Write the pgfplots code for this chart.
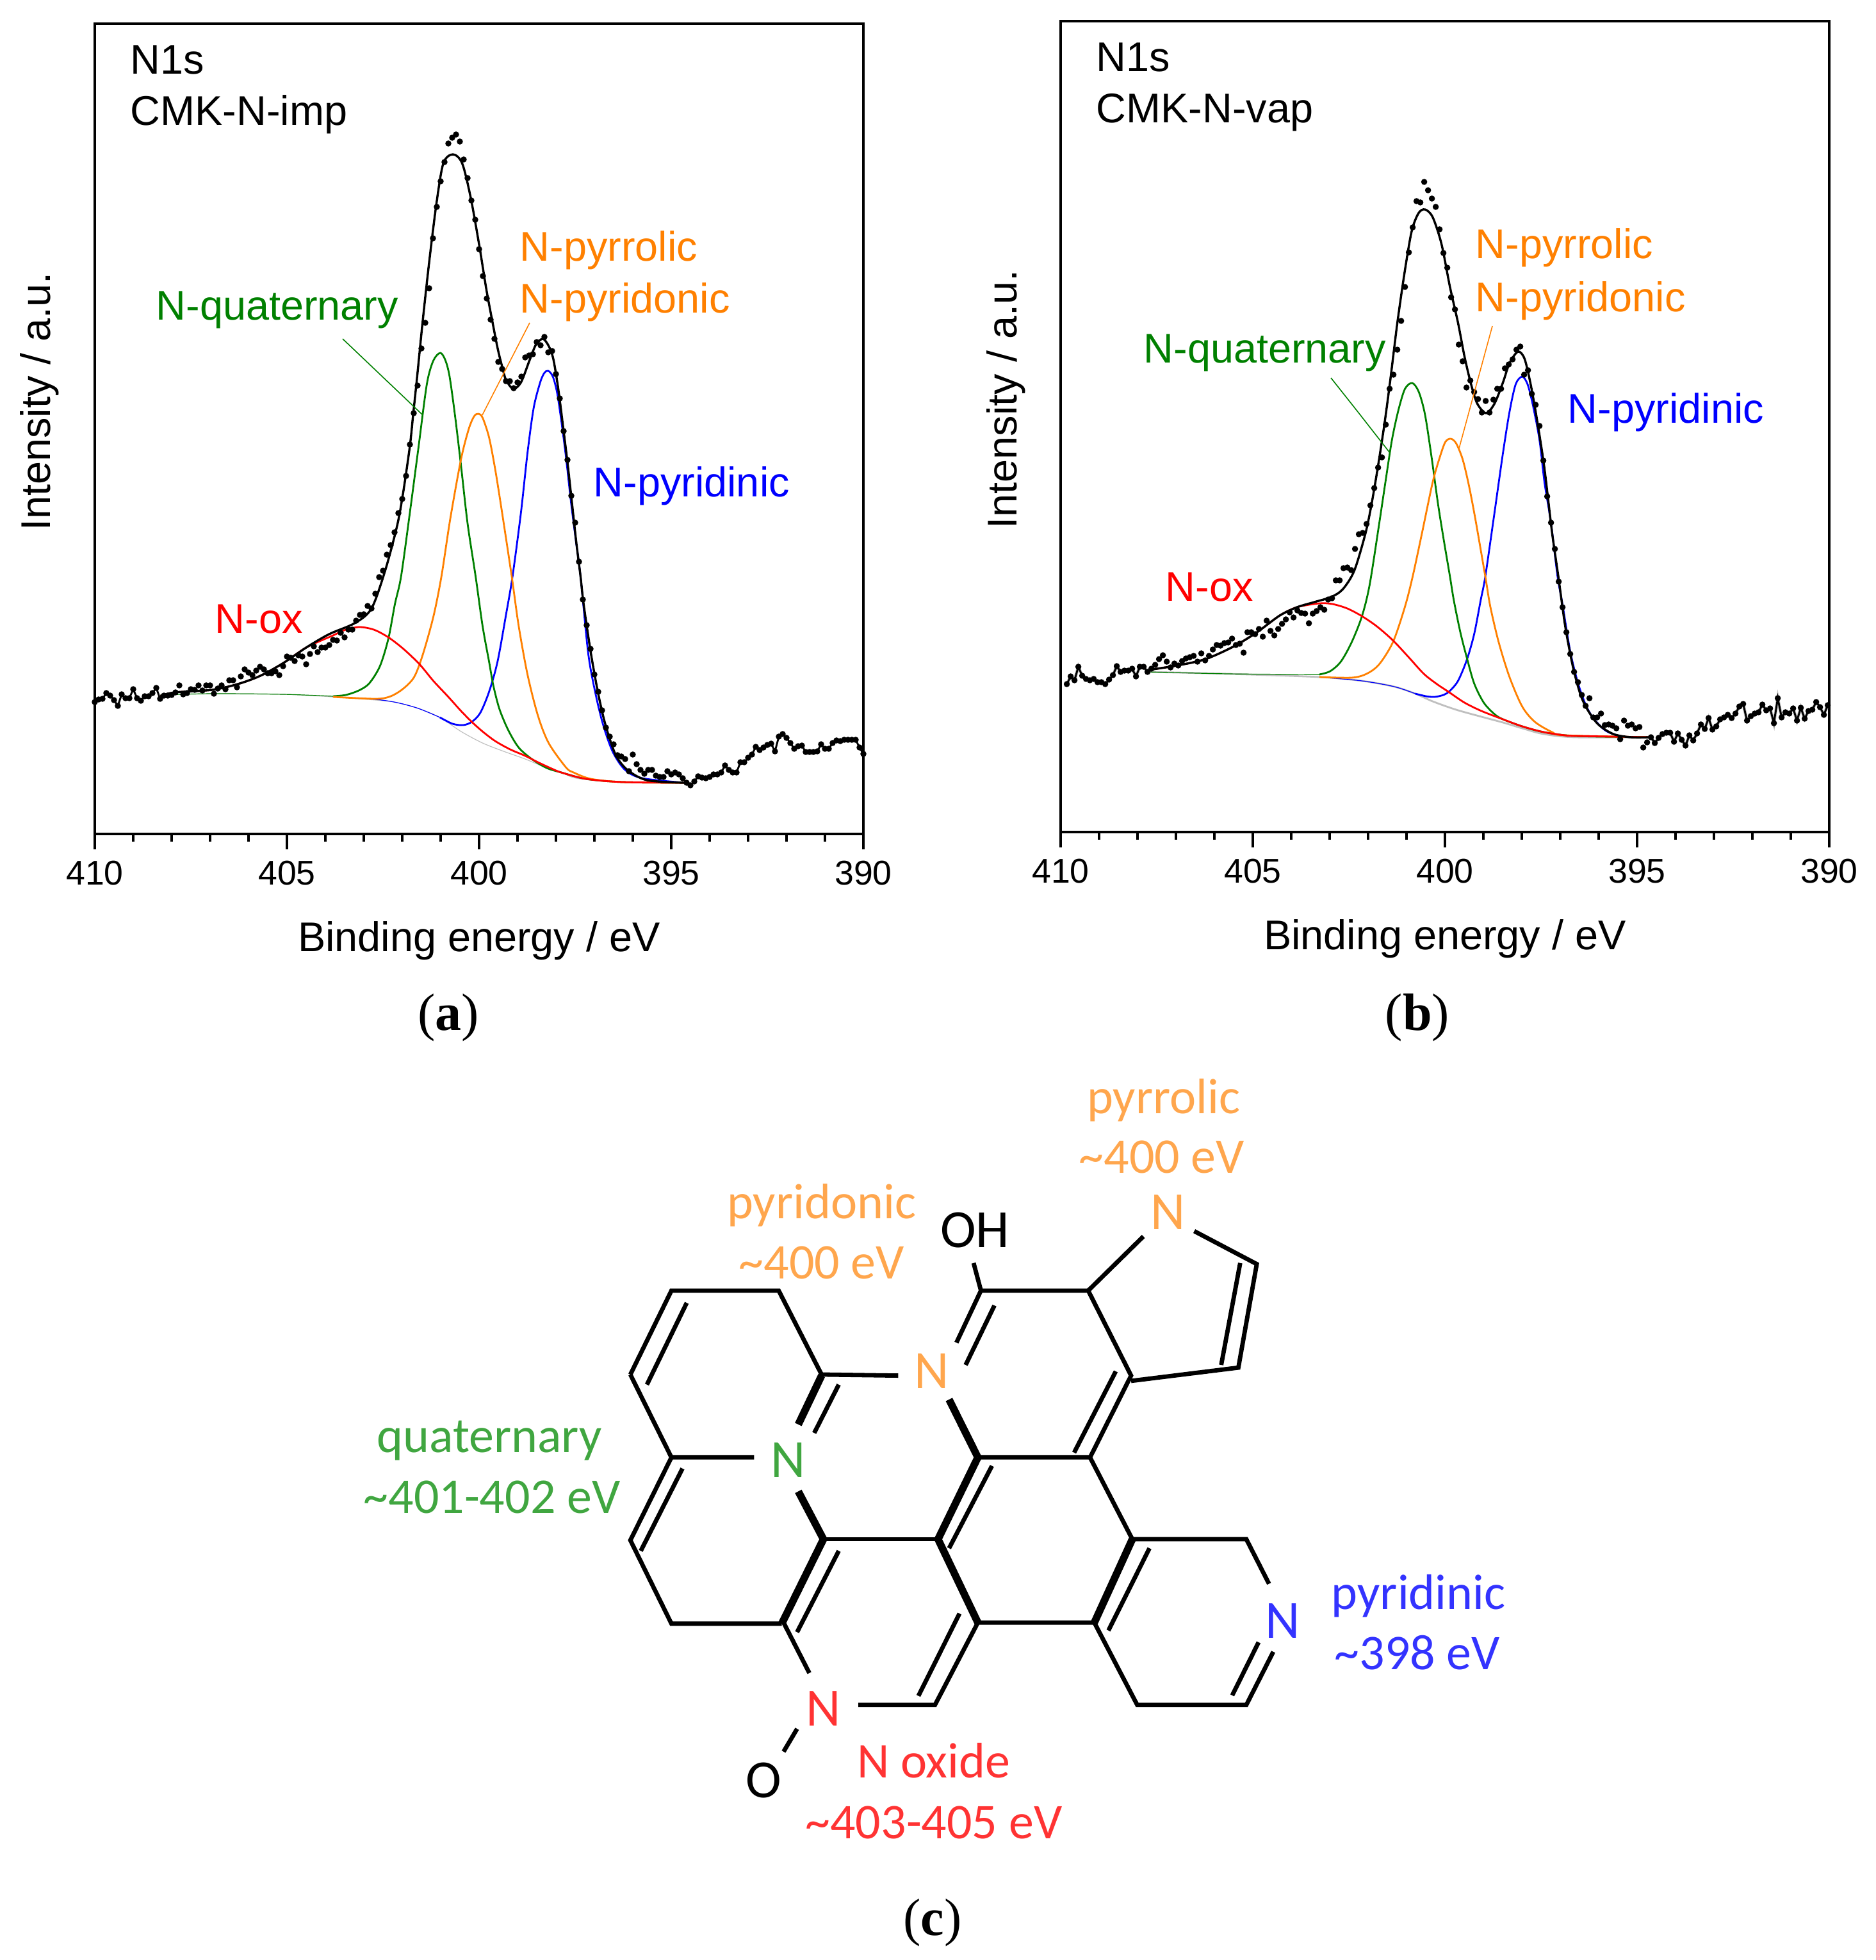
\documentclass[border=0pt]{standalone}
\usepackage{fontspec}
\setmainfont{Liberation Sans}
\newfontfamily\carlito{Carlito}
\newfontfamily\tnr{Liberation Serif}
\usepackage{pgfplots}
\usepackage{pgfplotstable}
\pgfplotsset{compat=1.18}
\definecolor{cgreen}{RGB}{0,128,0}
\definecolor{corange}{RGB}{255,128,0}
\definecolor{cgray}{RGB}{191,191,191}
\definecolor{morange}{RGB}{255,166,77}
\definecolor{mgreen}{RGB}{64,166,64}
\definecolor{mblue}{RGB}{51,51,255}
\definecolor{mred}{RGB}{255,51,51}
\newcommand\lab{\fontsize{16.2}{19}\selectfont}
\newcommand\mlab{\fontsize{19.5}{23}\selectfont\carlito}
\newcommand\matom{\fontsize{21}{25}\selectfont\carlito}
\pgfplotsset{xps/.style={
  scale only axis, width=300pt, x dir=reverse, xmin=390, xmax=410,
  xtick={390,395,400,405,410}, minor x tick num=4, ytick=\empty,
  xtick pos=bottom, tick align=outside,
  major tick length=6pt, minor tick length=3pt,
  axis line style={line width=0.95pt},
  tick style={line width=0.85pt,black},
  xticklabel style={font=\fontsize{13.4}{15}\selectfont,yshift=-1pt,/pgf/number format/assume math mode=true,/pgf/number format/.cd,1000 sep={}},
  xlabel={Binding energy / eV}, ylabel={Intensity / a.u.},
  xlabel style={font=\lab,at={(axis description cs:0.5,-0.1447)},anchor=base},
  ylabel style={font=\lab,at={(axis description cs:-0.0575,0.5336)},anchor=base,rotate=0},
}}
\pgfplotsset{fit/.style={line width=0.85pt,smooth,tension=0.5,no marks},
 comp/.style={line width=0.7pt,smooth,tension=0.5,no marks},
 thin/.style={line width=0.3pt,smooth,tension=0.5,no marks},
 dots/.style={only marks,mark=*,mark size=0.98pt,mark options={fill=black,draw=none}}}
\pgfplotstableread{
410.0 202
409.9 206
409.8 207
409.7 216
409.6 212
409.5 205
409.4 196
409.3 214
409.2 208
409.1 208
409.0 222
408.9 208
408.8 204
408.7 211
408.6 211
408.5 216
408.4 224
408.3 207
408.2 212
408.1 212
408.0 213
407.9 217
407.8 228
407.7 214
407.6 216
407.5 222
407.4 221
407.3 228
407.2 220
407.1 228
407.0 228
406.9 215
406.8 223
406.7 228
406.6 222
406.5 236
406.4 236
406.3 225
406.2 242
406.1 253
406.0 248
405.9 244
405.8 251
405.7 257
405.6 253
405.5 247
405.4 247
405.3 250
405.2 244
405.1 258
405.0 273
404.9 271
404.8 266
404.7 275
404.6 273
404.5 261
404.4 277
404.3 289
404.2 280
404.1 287
404.0 287
403.9 291
403.8 299
403.7 298
403.6 310
403.5 303
403.4 315
403.3 315
403.2 329
403.1 338
403.0 339
402.9 352
402.8 348
402.7 371
402.6 397
402.5 407
402.4 432
402.3 447
402.2 467
402.1 497
402.0 519
401.9 555
401.8 604
401.7 653
401.6 696
401.5 754
401.4 794
401.3 848
401.2 926
401.1 975
401.0 1015
400.9 1045
400.8 1074
400.7 1083
400.6 1088
400.5 1077
400.4 1049
400.3 1020
400.2 985
400.1 955
400.0 909
399.9 867
399.8 832
399.7 799
399.6 769
399.5 733
399.4 722
399.3 703
399.2 703
399.1 692
399.0 701
398.9 710
398.8 740
398.7 743
398.6 745
398.5 764
398.4 759
398.3 772
398.2 748
398.1 750
398.0 714
397.9 676
397.8 625
397.7 580
397.6 524
397.5 482
397.4 421
397.3 362
397.2 322
397.1 285
397.0 245
396.9 218
396.8 189
396.7 162
396.6 148
396.5 136
396.4 119
396.3 117
396.2 113
396.1 94
396.0 120
395.9 105
395.8 96
395.7 90
395.6 96
395.5 96
395.4 87
395.3 85
395.2 85
395.1 94
395.0 89
394.9 92
394.8 89
394.7 83
394.6 76
394.5 72
394.4 78
394.3 86
394.2 84
394.1 83
394.0 85
393.9 89
393.8 89
393.7 92
393.6 103
393.5 96
393.4 92
393.3 92
393.2 108
393.1 108
393.0 115
392.9 120
392.8 132
392.7 127
392.6 131
392.5 135
392.4 137
392.3 125
392.2 148
392.1 152
392.0 146
391.9 138
391.8 129
391.7 133
391.6 134
391.5 124
391.4 124
391.3 124
391.2 125
391.1 136
391.0 129
390.9 129
390.8 138
390.7 142
390.6 141
390.5 143
390.4 143
390.3 143
390.2 143
390.1 131
390.0 121
}\dotsA
\pgfplotstableread{
409.84 228
409.74 240
409.64 234
409.54 255
409.44 241
409.34 236
409.24 234
409.14 236
409.04 231
408.94 231
408.84 228
408.74 235
408.64 242
408.54 256
408.44 247
408.34 249
408.24 249
408.14 252
408.04 240
407.94 255
407.84 255
407.74 247
407.64 252
407.54 258
407.44 267
407.34 273
407.24 263
407.14 254
407.04 260
406.94 257
406.84 264
406.74 268
406.64 270
406.54 272
406.44 263
406.34 276
406.24 265
406.14 272
406.04 282
405.94 289
405.84 288
405.74 292
405.64 293
405.54 299
405.44 289
405.34 291
405.24 277
405.14 309
405.04 309
404.94 306
404.84 314
404.74 302
404.64 327
404.54 311
404.44 304
404.34 314
404.24 322
404.14 329
404.04 340
403.94 332
403.84 343
403.74 339
403.64 338
403.54 323
403.44 338
403.34 342
403.24 348
403.14 344
403.04 360
402.94 362
402.84 390
402.74 390
402.64 409
402.54 410
402.44 406
402.34 439
402.24 462
402.14 464
402.04 478
401.94 507
401.84 534
401.74 566
401.64 582
401.54 633
401.44 689
401.34 711
401.24 750
401.14 795
401.04 848
400.94 902
400.84 941
400.74 982
400.64 980
400.54 1012
400.44 999
400.34 986
400.24 973
400.14 938
400.04 901
399.94 878
399.84 832
399.74 813
399.64 758
399.54 732
399.44 691
399.34 702
399.24 684
399.14 673
399.04 652
398.94 670
398.84 652
398.74 672
398.64 689
398.54 689
398.44 721
398.34 727
398.24 735
398.14 750
398.04 755
397.94 711
397.84 718
397.74 681
397.64 664
397.54 631
397.44 577
397.34 521
397.24 480
397.14 439
397.04 388
396.94 348
396.84 309
396.74 275
396.64 247
396.54 231
396.44 211
396.34 194
396.24 206
396.14 176
396.04 176
395.94 182
395.84 164
395.74 165
395.64 163
395.54 159
395.44 142
395.34 171
395.24 163
395.14 165
395.04 159
394.94 161
394.84 129
394.74 137
394.64 145
394.54 136
394.44 144
394.34 150
394.24 152
394.14 152
394.04 138
393.94 151
393.84 141
393.74 132
393.64 148
393.54 140
393.44 151
393.34 165
393.24 158
393.14 175
393.04 157
392.94 162
392.84 173
392.74 176
392.64 180
392.54 175
392.44 182
392.34 193
392.24 197
392.14 171
392.04 178
391.94 182
391.84 184
391.74 196
391.64 187
391.54 190
391.44 167
391.34 206
391.24 176
391.14 184
391.04 182
390.94 190
390.84 171
390.74 191
390.64 174
390.54 186
390.44 188
390.34 200
390.24 192
390.14 180
390.04 195
}\dotsB
\begin{document}
\begin{tikzpicture}
\useasboundingbox (0,0) rectangle (732pt,-765pt);
%---------------- panel a
\begin{axis}[xps,height=316.25pt,at={(37pt,-325.5pt)},anchor=south west,ymin=-4,ymax=1261]
\addplot[cgray,thin] coordinates {(408.29,213)(406.95,215)(405.09,214)(403.8,210)(402.49,204)(402.13,201)(401.58,192)(401.02,178)(400.47,156)(399.91,138)(399.36,125)(398.8,113)(398.24,99)(397.86,92)(397.47,83)(396.58,78)(394.67,76)};
\addplot[cgreen,thin] coordinates {(408.29,213)(406.95,215)(405.09,214)(403.8,211)};
\addplot[blue,thin] coordinates {(403.8,210)(402.69,206)(402.13,201)(401.58,192)(401.02,178)};
\addplot[blue,comp] coordinates {(401.02,178)(400.69,168)(400.41,166)(400.19,171)(399.97,185)(399.74,218)(399.52,265)(399.3,338)(399.13,398)(398.91,498)(398.74,591)(398.58,661)(398.41,701)(398.3,716)(398.2,719)(398.08,710)(397.97,685)(397.86,641)(397.74,585)(397.61,515)(397.49,458)(397.36,398)(397.16,278)(396.97,215)(396.77,166)(396.52,124)(396.2,96)(395.75,83)(394.67,76)};
\addplot[cgreen,comp] coordinates {(403.8,211)(403.47,213)(403.13,220)(402.86,231)(402.58,258)(402.36,301)(402.19,355)(402.03,398)(401.8,498)(401.58,598)(401.36,698)(401.19,735)(401.01,747)(400.88,736)(400.77,711)(400.63,651)(400.47,571)(400.3,481)(400.09,398)(399.91,321)(399.74,265)(399.63,228)(399.47,191)(399.24,158)(398.97,131)(398.63,113)(398.24,99)(397.86,92)(397.22,82)(396.26,77)(394.67,76)};
\addplot[corange,comp] coordinates {(403.8,210)(402.69,207)(402.3,211)(401.97,223)(401.69,241)(401.47,275)(401.19,335)(400.98,398)(400.75,488)(400.47,581)(400.27,628)(400.13,648)(400.02,652)(399.91,646)(399.74,615)(399.58,565)(399.41,501)(399.15,398)(398.97,321)(398.74,245)(398.47,181)(398.19,138)(397.74,100)(397.54,92)(397.09,82)(396.26,77)(394.67,76)};
\addplot[red,comp] coordinates {(408.29,211.5)(407.92,217)(406.95,221)(406.28,230)(405.69,243)(405.09,263)(404.5,287)(403.8,306)(403.47,315)(403.11,319)(402.74,315)(402.36,303)(401.97,285)(401.55,261)(401.19,235)(400.8,210)(400.47,188)(400.19,171)(399.91,156)(399.58,141)(399.19,128)(398.8,118)(398.47,108)(398.11,98)(397.86,92)(397.22,82)(396.26,77)(394.67,76)};
\addplot[black,fit] coordinates {(408.29,211.5)(407.92,217)(406.95,221)(406.28,230)(405.69,243)(405.09,263)(404.5,287)(403.9,308)(403.24,325)(402.8,348)(402.44,408)(402.13,478)(401.97,531)(401.8,602)(401.72,648)(401.61,711)(401.47,795)(401.3,888)(401.11,980)(400.93,1043)(400.68,1057)(400.44,1043)(400.22,990)(400.0,916.5)(399.81,846)(399.66,798)(399.52,755)(399.41,728)(399.3,705)(399.11,691)(398.91,701)(398.69,735)(398.52,760)(398.34,769)(398.19,758)(398.07,738)(397.94,691)(397.8,625)(397.69,571)(397.58,511)(397.47,451)(397.36,398)(397.28,355)(397.09,278)(396.9,215)(396.71,166)(396.45,120)(396.14,96)(395.63,80)(394.67,76)};
\addplot[black,line width=0.72pt,no marks,restrict x to domain=408.2:410] table {\dotsA};
\addplot[black,line width=0.72pt,no marks,restrict x to domain=390:394.7] table {\dotsA};
\addplot[dots] table {\dotsA};
\end{axis}
%---------------- panel b
\begin{axis}[xps,height=316.5pt,at={(414pt,-324.75pt)},anchor=south west,ymin=-3,ymax=1263]
\addplot[cgray,line width=1.2pt,no marks,restrict x to domain=407.7:410] table {\dotsB};
\addplot[cgray,line width=1.2pt,no marks,restrict x to domain=390:394.7] table {\dotsB};
\addplot[cgray,comp] coordinates {(407.72,247)(405.64,244)(403.27,239)(402.16,233)(401.32,224)(400.77,213)(400.32,201)(399.71,188)(399.05,177)(398.49,168)(397.99,159)(397.43,150)(396.6,145)(394.63,145)};
\addplot[cgreen,thin] coordinates {(407.72,247)(405.64,244)(403.27,243)};
\addplot[blue,thin] coordinates {(403.27,239)(402.16,233)(401.32,224)(400.77,213)};
\addplot[blue,comp] coordinates {(400.77,213)(400.49,209)(400.27,208)(400.04,211)(399.88,217)(399.66,233)(399.43,266)(399.24,306)(399.07,359)(398.95,396)(398.71,496)(398.49,589)(398.32,653)(398.16,696)(397.99,708)(397.85,696)(397.71,663)(397.54,609)(397.41,543)(397.24,479)(397.07,396)(396.94,352)(396.74,279)(396.54,230)(396.34,196)(396.14,175)(395.81,155)(395.35,146)(394.63,145)};
\addplot[cgreen,comp] coordinates {(403.27,243)(402.99,248)(402.71,263)(402.43,293)(402.16,334)(401.96,383)(401.71,479)(401.55,543)(401.38,609)(401.21,656)(401.04,689)(400.85,698)(400.68,684)(400.52,649)(400.35,583)(400.18,509)(400.02,449)(399.87,396)(399.77,359)(399.6,309)(399.43,269)(399.24,229)(398.99,199)(398.71,181)(398.49,173)(397.99,162)(397.43,153)(396.6,147)(394.63,145)};
\addplot[corange,comp] coordinates {(403.27,239)(402.43,238)(402.04,244)(401.71,259)(401.35,294)(401.04,349)(400.84,396)(400.6,463)(400.32,543)(400.13,583)(399.99,606)(399.85,611)(399.71,604)(399.54,579)(399.38,539)(399.21,486)(398.95,396)(398.82,349)(398.6,293)(398.32,239)(397.99,193)(397.66,169)(397.21,153)(396.88,148)(394.63,145)};
\addplot[red,comp] coordinates {(407.72,250)(406.97,257)(406.23,267)(405.49,287)(404.89,309)(404.3,335)(403.85,348)(403.27,354)(402.93,353)(402.54,346)(402.16,334)(401.77,318)(401.35,296)(400.93,269)(400.55,244)(400.21,228)(399.91,216)(399.49,199)(399.05,186)(398.49,173)(397.99,162)(397.43,153)(396.88,148)(396.6,147)(394.63,145)};
\addplot[black,fit] coordinates {(407.72,250)(406.97,257)(406.23,267)(405.49,287)(404.89,309)(404.3,335)(403.85,348)(403.4,356)(402.96,364)(402.66,376)(402.36,405)(402.07,463)(401.91,509)(401.74,569)(401.57,636)(401.43,699)(401.32,753)(401.23,796)(401.06,867)(400.87,934)(400.69,963)(400.52,969)(400.32,957)(400.09,915)(399.87,848)(399.66,792)(399.49,739)(399.32,696)(399.16,666)(398.93,651)(398.71,666)(398.49,699)(398.32,729)(398.1,747)(397.93,736)(397.77,696)(397.6,639)(397.43,573)(397.32,519)(397.21,463)(397.05,396)(396.87,318)(396.67,255)(396.47,211)(396.28,187)(396.01,165)(395.62,150)(395.16,145)(394.63,145)};
\addplot[black,line width=0.72pt,no marks,restrict x to domain=407.7:410] table {\dotsB};
\addplot[black,line width=0.72pt,no marks,restrict x to domain=390:394.7] table {\dotsB};
\addplot[dots] table {\dotsB};
\end{axis}
%---------------- annotations, in pixels of the reference
\begin{scope}[x=0.25pt,y=-0.25pt]
\node[anchor=base west,inner sep=0,font=\lab] at (203,116) {N1s};
\node[anchor=base west,inner sep=0,font=\lab] at (203,196) {CMK-N-imp};
\node[anchor=base west,inner sep=0,font=\lab,text=cgreen] at (243,499) {N-quaternary};
\node[anchor=base west,inner sep=0,font=\lab,text=corange] at (811,408) {N-pyrrolic};
\node[anchor=base west,inner sep=0,font=\lab,text=corange] at (811,488) {N-pyridonic};
\node[anchor=base west,inner sep=0,font=\lab,text=blue] at (926,775) {N-pyridinic};
\node[anchor=base west,inner sep=0,font=\lab,text=red] at (335,988) {N-ox};
\draw[cgreen,line width=0.4pt] (535,529)--(659,647);
\draw[corange,line width=0.4pt] (753,648)--(827,504);
\node[anchor=base west,inner sep=0,font=\lab] at (1711,112) {N1s};
\node[anchor=base west,inner sep=0,font=\lab] at (1711,192) {CMK-N-vap};
\node[anchor=base west,inner sep=0,font=\lab,text=cgreen] at (1785,566) {N-quaternary};
\node[anchor=base west,inner sep=0,font=\lab,text=corange] at (2303,404) {N-pyrrolic};
\node[anchor=base west,inner sep=0,font=\lab,text=corange] at (2303,486) {N-pyridonic};
\node[anchor=base west,inner sep=0,font=\lab,text=blue] at (2447,660) {N-pyridinic};
\node[anchor=base west,inner sep=0,font=\lab,text=red] at (1819,938) {N-ox};
\draw[cgreen,line width=0.4pt] (2120,643)--(2170,707);
\draw[cgreen,line width=0.4pt] (2078,590)--(2120,643);
\draw[corange,line width=0.4pt] (2330,509)--(2278,700);
\node[anchor=base,inner sep=0,font=\fontsize{20.5}{24}\selectfont\tnr] at (700,1608) {(\textbf{a})};
\node[anchor=base,inner sep=0,font=\fontsize{20.5}{24}\selectfont\tnr] at (2213,1608) {(\textbf{b})};
\node[anchor=base,inner sep=0,font=\fontsize{20.5}{24}\selectfont\tnr] at (1456,3021) {(\textbf{c})};
\end{scope}
%---------------- panel c, the structure
\begin{scope}[x=0.23923pt,y=-0.2073pt,shift={(940.5,1989.9)},line width=1.7pt,line cap=butt,line join=miter]
\draw (88,598)--(155,440)--(330,440)--(400,598)--(525,600);
\draw (115,617)--(180,463);
\draw (88,598)--(155,754)--(290,754);
\draw (155,754)--(88,910)--(155,1067)--(335,1067);
\draw (105,930)--(173,775);
\draw (428,617)--(388,708);
\draw (428,930)--(360,1083);
\draw (338,1065)--(380,1160);
\draw (403,908)--(590,908);
\draw (460,1220)--(585,1220)--(655,1065)--(845,1065);
\draw (625,1048)--(558,1203);
\draw (678,770)--(608,925);
\draw (655,754)--(838,754)--(905,600)--(835,440)--(660,440)--(620,538);
\draw (682,468)--(635,580);
\draw (660,440)--(648,388);
\draw (880,592)--(812,745);
\draw (835,440)--(925,338);
\draw (1008,328)--(1110,390)--(1080,585)--(905,610);
\draw (1083,388)--(1052,580);
\draw (838,754)--(907,908)--(1093,908)--(1130,992);
\draw (845,1065)--(915,1220)--(1093,1220)--(1137,1120);
\draw (1113,1102)--(1070,1202);
\draw (935,925)--(868,1080);
\draw (360,1265)--(338,1308);
\begin{scope}[line width=2.9pt]
\draw (400,600)--(362,692);
\draw (362,818)--(403,908);
\draw (403,908)--(335,1067);
\draw (608,645)--(655,754);
\draw (655,754)--(590,908)--(655,1065);
\draw (907,908)--(845,1065);
\end{scope}
\node[anchor=base,inner sep=0,font=\mlab,text=morange] at (958,107) {pyrrolic};
\node[anchor=base,inner sep=0,font=\mlab,text=morange] at (955,219) {\textasciitilde 400 eV};
\node[anchor=base,inner sep=0,font=\mlab,text=morange] at (400,304) {pyridonic};
\node[anchor=base,inner sep=0,font=\mlab,text=morange] at (400,418) {\textasciitilde 400 eV};
\node[anchor=base,inner sep=0,font=\matom] at (650,359) {OH};
\node[anchor=base,inner sep=0,font=\matom,text=morange] at (965,325) {N};
\node[anchor=base,inner sep=0,font=\matom,text=morange] at (580,624) {N};
\node[anchor=base,inner sep=0,font=\matom,text=mgreen] at (345,792) {N};
\node[anchor=base,inner sep=0,font=\matom,text=mblue] at (1152,1094) {N};
\node[anchor=base,inner sep=0,font=\matom,text=mred] at (403,1260) {N};
\node[anchor=base,inner sep=0,font=\matom] at (305,1395) {O};
\node[anchor=base,inner sep=0,font=\mlab,text=mblue] at (1374,1040) {pyridinic};
\node[anchor=base,inner sep=0,font=\mlab,text=mblue] at (1372,1153) {\textasciitilde 398 eV};
\node[anchor=base,inner sep=0,font=\mlab,text=mred] at (583,1357) {N oxide};
\node[anchor=base,inner sep=0,font=\mlab,text=mred] at (583,1472) {\textasciitilde 403-405 eV};
\node[anchor=base,inner sep=0,font=\mlab,text=mgreen] at (-142,744) {quaternary};
\node[anchor=base,inner sep=0,font=\mlab,text=mgreen] at (-138,859) {\textasciitilde 401-402 eV};
\end{scope}
\end{tikzpicture}
\end{document}
